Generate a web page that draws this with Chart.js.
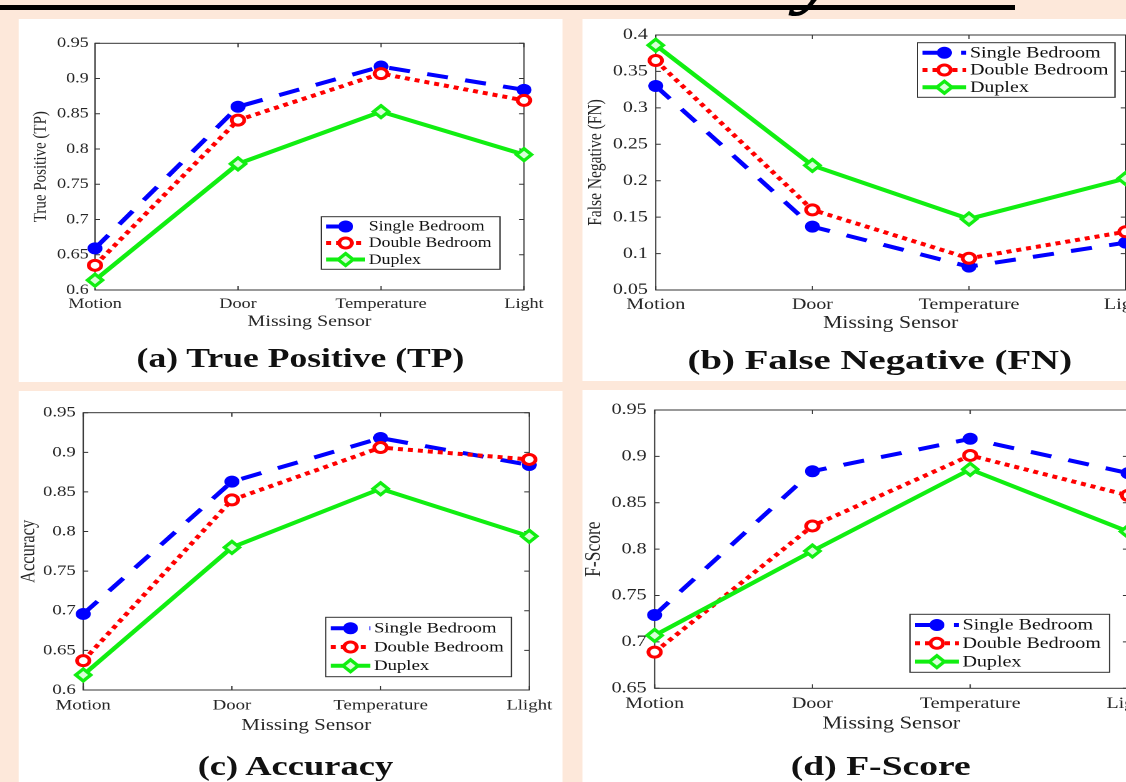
<!DOCTYPE html>
<html><head><meta charset="utf-8">
<script src="https://cdn.jsdelivr.net/npm/chart.js@4.4.0/dist/chart.umd.min.js"></script>
<style>
html,body{margin:0;padding:0;background:#fde8da;width:1126px;height:782px;overflow:hidden;}
#stage{position:absolute;left:0;top:0;width:900.8px;height:782px;transform:scaleX(1.25);transform-origin:0 0;overflow:hidden;}
.panel{position:absolute;background:#fff;}
canvas{position:absolute;}
.cap{position:absolute;font-family:'Liberation Serif','Times New Roman',serif;font-weight:bold;font-size:27px;line-height:27px;color:#111;white-space:nowrap;transform-origin:50% 50%;}
#bar{position:absolute;left:0;top:5px;width:812px;height:5px;background:#000;}
#glyph{position:absolute;left:638px;top:-59px;font-family:'Liberation Serif',serif;font-style:italic;font-weight:bold;font-size:72px;line-height:72px;color:#000;}
</style></head><body>
<div id="stage">
  <div id="glyph">y</div>
  <div id="bar"></div>
  <div class="panel" style="left:14.9px;top:19px;width:435.5px;height:363px"></div>
  <div class="panel" style="left:465.9px;top:19px;width:440px;height:362px"></div>
  <div class="panel" style="left:14.9px;top:391px;width:435.5px;height:391px"></div>
  <div class="panel" style="left:465.9px;top:390px;width:440px;height:392px"></div>
  <canvas id="cA" width="440" height="345" style="left:10px;top:19px"></canvas>
  <canvas id="cB" width="470" height="345" style="left:462px;top:19px"></canvas>
  <canvas id="cC" width="440" height="360" style="left:10px;top:391px"></canvas>
  <canvas id="cD" width="470" height="360" style="left:462px;top:390px"></canvas>
  <div class="cap" id="capA">(a) True Positive (TP)</div>
  <div class="cap" id="capB">(b) False Negative (FN)</div>
  <div class="cap" id="capC">(c) Accuracy</div>
  <div class="cap" id="capD">(d) F-Score</div>
</div>
<script>
// ---------------- data ----------------
const categories = ['Motion', 'Door', 'Temperature', 'Light'];
const categoriesAcc = ['Motion', 'Door', 'Temperature', 'Llight'];
const seriesNames = ['Single Bedroom', 'Double Bedroom', 'Duplex'];

const tpSingle = [0.659, 0.860, 0.917, 0.884];
const tpDouble = [0.635, 0.841, 0.907, 0.869];
const tpDuplex = [0.614, 0.779, 0.853, 0.792];

const fnSingle = [0.330, 0.137, 0.082, 0.115];
const fnDouble = [0.365, 0.160, 0.0935, 0.130];
const fnDuplex = [0.386, 0.221, 0.1475, 0.203];

const accSingle = [0.696, 0.863, 0.918, 0.884];
const accDouble = [0.637, 0.840, 0.906, 0.891];
const accDuplex = [0.619, 0.780, 0.854, 0.794];

const fsSingle = [0.729, 0.884, 0.919, 0.882];
const fsDouble = [0.689, 0.825, 0.901, 0.858];
const fsDuplex = [0.707, 0.798, 0.886, 0.819];

const ticksTP = [0.6, 0.65, 0.7, 0.75, 0.8, 0.85, 0.9, 0.95];
const ticksFN = [0.05, 0.1, 0.15, 0.2, 0.25, 0.3, 0.35, 0.4];
const ticksAcc = [0.6, 0.65, 0.7, 0.75, 0.8, 0.85, 0.9, 0.95];
const ticksFS = [0.65, 0.7, 0.75, 0.8, 0.85, 0.9, 0.95];

// ---------------- styles ----------------
const SERIF = "'Liberation Serif', 'Times New Roman', serif";
const AXC = '#262626';
const STY = [
  {color: '#0000ff', fill: '#0000ff', dash: [17, 14], ps: 'circle', r: 5.5, pbw: 1},
  {color: '#ff0000', fill: '#ffffff', dash: [4, 4], ps: 'circle', r: 5, pbw: 3},
  {color: '#11ee11', fill: '#d8ffd8', dash: [], ps: 'rectRot', r: 6, pbw: 3}
];

function makeDataset(i, data) {
  const s = STY[i];
  return {
    label: seriesNames[i], data: data,
    borderColor: s.color, backgroundColor: s.fill, borderWidth: 4, borderDash: s.dash,
    pointStyle: s.ps, pointRadius: s.r, pointBorderWidth: s.pbw,
    pointBorderColor: s.color, pointBackgroundColor: s.fill,
    pointHoverRadius: s.r, tension: 0, clip: false, order: 3 - i
  };
}

const framePlugin = {
  id: 'frame',
  beforeDatasetsDraw(chart) {
    const {ctx, chartArea: a, scales: {x, y}} = chart;
    ctx.save();
    ctx.strokeStyle = '#333';
    ctx.lineWidth = 1;
    ctx.strokeRect(a.left, a.top, a.right - a.left, a.bottom - a.top);
    const tl = 4;
    ctx.beginPath();
    x.ticks.forEach((t, i) => {
      const px = x.getPixelForTick(i);
      ctx.moveTo(px, a.bottom); ctx.lineTo(px, a.bottom - tl);
      ctx.moveTo(px, a.top); ctx.lineTo(px, a.top + tl);
    });
    y.ticks.forEach(t => {
      const py = y.getPixelForValue(t.value);
      ctx.moveTo(a.left, py); ctx.lineTo(a.left + tl, py);
      ctx.moveTo(a.right, py); ctx.lineTo(a.right - tl, py);
    });
    ctx.stroke();
    ctx.restore();
  }
};

function drawMarker(ctx, st, x, y) {
  if (Chart.helpers && Chart.helpers.drawPoint) {
    Chart.helpers.drawPoint(ctx, {pointStyle: st.ps, radius: st.r, borderWidth: st.pbw, rotation: 0}, x, y);
    return;
  }
  ctx.beginPath();
  if (st.ps === 'rectRot') {
    ctx.moveTo(x, y - st.r); ctx.lineTo(x + st.r, y); ctx.lineTo(x, y + st.r); ctx.lineTo(x - st.r, y); ctx.closePath();
  } else {
    ctx.arc(x, y, st.r, 0, Math.PI * 2);
  }
  ctx.fill(); ctx.stroke();
}

const boxLegendPlugin = {
  id: 'boxLegend',
  afterDatasetsDraw(chart, args, o) {
    const {ctx, chartArea: a} = chart;
    const left = a.right - o.dx - o.w;
    const top = o.corner === 'ne' ? a.top + o.dy : a.bottom - o.dy - o.h;
    ctx.save();
    ctx.fillStyle = '#fff';
    ctx.fillRect(left, top, o.w, o.h);
    ctx.strokeStyle = '#333';
    ctx.lineWidth = 1;
    ctx.strokeRect(left, top, o.w, o.h);
    const n = chart.data.datasets.length;
    chart.data.datasets.forEach((d, i) => {
      const st = STY[i];
      const ry = top + 1.5 + (o.h - 3) * (i + 0.5) / n;
      const x0 = left + 4, x1 = left + o.tx - 3;
      ctx.save();
      ctx.strokeStyle = st.color; ctx.lineWidth = 4;
      ctx.setLineDash(st.dash); ctx.lineDashOffset = 0;
      ctx.beginPath(); ctx.moveTo(x0, ry); ctx.lineTo(x1, ry); ctx.stroke();
      ctx.setLineDash([]);
      ctx.fillStyle = st.fill; ctx.strokeStyle = st.color; ctx.lineWidth = st.pbw;
      drawMarker(ctx, st, (x0 + x1) / 2, ry);
      ctx.restore();
      ctx.fillStyle = '#111';
      ctx.font = o.font + 'px ' + SERIF;
      ctx.textBaseline = 'middle';
      ctx.textAlign = 'left';
      ctx.fillText(d.label, left + o.tx, ry + 0.5);
    });
    ctx.restore();
  }
};

// P: layout of one panel, in stage (unstretched) coordinates
function buildChart(id, P, labels, sets) {
  const cv = document.getElementById(id);
  const cx = P.canvas[0], cy = P.canvas[1], cw = P.canvas[2], ch = P.canvas[3];
  const yLH = P.ytitle * 1.2, xLH = P.xtitle * 1.2;
  const padLeft = P.ytitleX - cx - yLH / 2;
  const yW = P.area.l - cx - padLeft;
  const xH = P.xtitleOff + xLH / 2;
  const padBottom = cy + ch - P.area.b - xH;
  const padTop = P.area.t - cy;
  const padRight = cx + cw - P.area.r;
  const tickLH = P.tick * 1.2;
  const xPad = P.xlabOff - tickLH / 2;
  return new Chart(cv, {
    type: 'line',
    data: {labels: labels, datasets: sets.map((d, i) => makeDataset(i, d))},
    options: {
      responsive: false, animation: false, devicePixelRatio: 2,
      layout: {padding: {left: padLeft, right: padRight, top: padTop, bottom: padBottom}},
      plugins: {legend: {display: false}, tooltip: {enabled: false}, boxLegend: P.legend},
      events: [],
      scales: {
        x: {
          type: 'category', offset: false,
          grid: {display: false, drawTicks: false, tickLength: 0}, border: {display: false},
          ticks: {font: {family: SERIF, size: P.tick}, color: AXC, padding: xPad, maxRotation: 0, minRotation: 0, autoSkip: false},
          title: {display: true, text: 'Missing Sensor', font: {family: SERIF, size: P.xtitle}, color: AXC, padding: 0},
          afterFit(s) { s.height = xH; }
        },
        y: {
          type: 'linear', min: P.yTicks[0], max: P.yTicks[P.yTicks.length - 1],
          grid: {display: false, drawTicks: false, tickLength: 0}, border: {display: false},
          afterBuildTicks(s) { s.ticks = P.yTicks.map(v => ({value: v})); },
          ticks: {font: {family: SERIF, size: P.tick}, color: AXC, padding: P.ypad, callback: v => String(v)},
          title: {display: true, text: P.ytext, font: {family: SERIF, size: P.ytitle}, color: AXC, padding: 0},
          afterFit(s) { s.width = yW; }
        }
      }
    },
    plugins: [framePlugin, boxLegendPlugin]
  });
}

buildChart('cA', {
  canvas: [10, 19, 440, 345], area: {l: 76, t: 43.3, r: 419.2, b: 290},
  tick: 14.5, ytitle: 15, xtitle: 16, ytitleX: 32.8, xlabOff: 14, xtitleOff: 31.7, ypad: 5,
  yTicks: ticksTP, ytext: 'True Positive (TP)',
  legend: {corner: 'se', dx: 19.2, dy: 20.7, w: 143, h: 52.6, tx: 38, font: 14.2}
}, categories, [tpSingle, tpDouble, tpDuplex]);

buildChart('cB', {
  canvas: [462, 19, 470, 345], area: {l: 524.6, t: 35, r: 900.5, b: 290},
  tick: 16, ytitle: 15.5, xtitle: 17.5, ytitleX: 476.8, xlabOff: 15, xtitleOff: 33.3, ypad: 6.4,
  yTicks: ticksFN, ytext: 'False Negative (FN)',
  legend: {corner: 'ne', dx: 8.5, dy: 7.7, w: 158, h: 54.6, tx: 42, font: 16}
}, categories, [fnSingle, fnDouble, fnDuplex]);

buildChart('cC', {
  canvas: [10, 391, 440, 360], area: {l: 66.6, t: 412.7, r: 423.4, b: 690},
  tick: 15, ytitle: 16.5, xtitle: 16.8, ytitleX: 23.4, xlabOff: 15.7, xtitleOff: 35.7, ypad: 6,
  yTicks: ticksAcc, ytext: 'Accuracy',
  legend: {corner: 'se', dx: 14.3, dy: 13.3, w: 148.5, h: 59.4, tx: 38.6, font: 15}
}, categoriesAcc, [accSingle, accDouble, accDuplex]);

buildChart('cD', {
  canvas: [462, 390, 470, 360], area: {l: 523.7, t: 410, r: 902.4, b: 688.3},
  tick: 16, ytitle: 17.5, xtitle: 17.8, ytitleX: 475.4, xlabOff: 15.7, xtitleOff: 35.7, ypad: 6.4,
  yTicks: ticksFS, ytext: 'F-Score',
  legend: {corner: 'se', dx: 14.8, dy: 16, w: 159.6, h: 58, tx: 42, font: 16}
}, categories, [fsSingle, fsDouble, fsDuplex]);

// captions: centre (stage coords) and target width; glyphs widened to match
function placeCap(id, cx, cy, targetW) {
  const el = document.getElementById(id);
  const w0 = el.offsetWidth;
  const k = targetW / w0;
  el.style.left = (cx - w0 / 2) + 'px';
  el.style.top = (cy - 13.5) + 'px';
  el.style.transform = 'scaleX(' + k + ')';
}
placeCap('capA', 240, 358, 262.5);
placeCap('capB', 703.6, 360.7, 308);
placeCap('capC', 236.8, 766.7, 156.8);
placeCap('capD', 704.6, 766, 143.6);
</script>
</body></html>
